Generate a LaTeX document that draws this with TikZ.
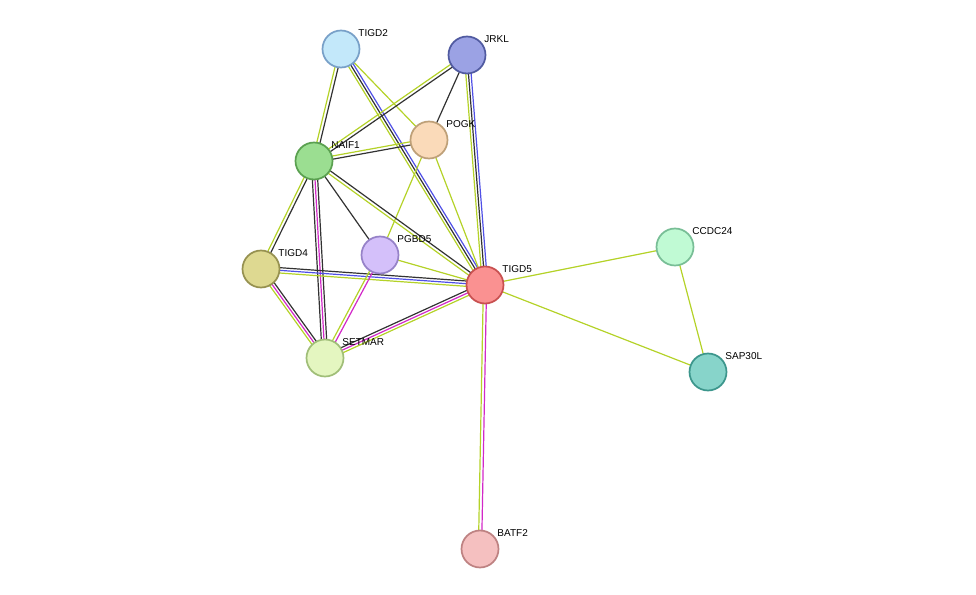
\documentclass[tikz,border=0pt]{standalone}
\usepackage{fontspec}
\setmainfont{Liberation Sans}
\usetikzlibrary{calc,backgrounds}
\definecolor{ygreen}{RGB}{180,210,40}
\definecolor{mgnt}{RGB}{210,40,200}
\definecolor{blu}{RGB}{80,80,230}
\definecolor{blk}{RGB}{50,50,50}
\tikzset{
  prot/.style 2 args = {circle, draw = #2, fill = #1, line width = 1.3pt, minimum size = 37\pxu, inner sep = 0pt},
  lbl/.style = {font = \fontsize{7.5}{9}\selectfont, inner sep = 1pt},
  lnk/.style = {line width = 0.9pt}
}
\newlength{\pxu}
\setlength{\pxu}{0.75pt}
\newcommand{\edg}[3]{\foreach \c/\o in {#3} {\draw[lnk, \c] ($(#1)!\o pt!90:(#2)$) -- ($(#2)!\o pt!-90:(#1)$);}}
\begin{document}
\begin{tikzpicture}[x = 0.75pt, y = -0.75pt]
\useasboundingbox (0,0) rectangle (976,595);
\node[prot = {{rgb,255:red,195;green,232;blue,250}}{{rgb,255:red,120;green,160;blue,200}}, label = {[lbl]35:TIGD2}] (TIGD2) at (341,49) {};
\node[prot = {{rgb,255:red,155;green,162;blue,228}}{{rgb,255:red,80;green,90;blue,160}}, label = {[lbl]35:JRKL}] (JRKL) at (467,55) {};
\node[prot = {{rgb,255:red,250;green,218;blue,185}}{{rgb,255:red,190;green,160;blue,120}}, label = {[lbl]35:POGK}] (POGK) at (429,140) {};
\node[prot = {{rgb,255:red,155;green,222;blue,145}}{{rgb,255:red,90;green,160;blue,80}}, label = {[lbl]35:NAIF1}] (NAIF1) at (314,161) {};
\node[prot = {{rgb,255:red,212;green,192;blue,250}}{{rgb,255:red,150;green,130;blue,200}}, label = {[lbl]35:PGBD5}] (PGBD5) at (380,255) {};
\node[prot = {{rgb,255:red,222;green,217;blue,145}}{{rgb,255:red,150;green,145;blue,80}}, label = {[lbl]35:TIGD4}] (TIGD4) at (261,269) {};
\node[prot = {{rgb,255:red,250;green,145;blue,145}}{{rgb,255:red,200;green,80;blue,80}}, label = {[lbl]35:TIGD5}] (TIGD5) at (485,285) {};
\node[prot = {{rgb,255:red,228;green,246;blue,192}}{{rgb,255:red,160;green,190;blue,120}}, label = {[lbl]35:SETMAR}] (SETMAR) at (325,358) {};
\node[prot = {{rgb,255:red,192;green,250;blue,212}}{{rgb,255:red,120;green,190;blue,150}}, label = {[lbl]35:CCDC24}] (CCDC24) at (675,247) {};
\node[prot = {{rgb,255:red,135;green,212;blue,202}}{{rgb,255:red,60;green,150;blue,140}}, label = {[lbl]35:SAP30L}] (SAP30L) at (708,372) {};
\node[prot = {{rgb,255:red,245;green,192;blue,192}}{{rgb,255:red,190;green,130;blue,130}}, label = {[lbl]35:BATF2}] (BATF2) at (480,549) {};
% links
\begin{scope}[on background layer]
\edg{TIGD2}{NAIF1}{ygreen/-1.2, blk/1.2}
\edg{TIGD2}{POGK}{ygreen/0}
\edg{TIGD2}{TIGD5}{ygreen/-2, blk/0, blu/2}
\edg{JRKL}{NAIF1}{ygreen/-1.2, blk/1.2}
\edg{JRKL}{POGK}{blk/0}
\edg{JRKL}{TIGD5}{ygreen/-2, blk/0, blu/2}
\edg{POGK}{NAIF1}{ygreen/-1.2, blk/1.2}
\edg{POGK}{TIGD5}{ygreen/0}
\edg{POGK}{PGBD5}{ygreen/0}
\edg{NAIF1}{PGBD5}{blk/0}
\edg{NAIF1}{TIGD5}{ygreen/-1.2, blk/1.2}
\edg{NAIF1}{TIGD4}{ygreen/-1.2, blk/1.2}
\edg{NAIF1}{SETMAR}{blk/-2, mgnt/0, blk/2}
\edg{TIGD4}{TIGD5}{ygreen/-2, blu/0, blk/2}
\edg{TIGD4}{SETMAR}{ygreen/-2, mgnt/0, blk/2}
\edg{PGBD5}{SETMAR}{ygreen/-1.2, mgnt/1.2}
\edg{PGBD5}{TIGD5}{ygreen/0}
\edg{SETMAR}{TIGD5}{ygreen/-2, mgnt/0, blk/2}
\edg{TIGD5}{CCDC24}{ygreen/0}
\edg{TIGD5}{SAP30L}{ygreen/0}
\edg{CCDC24}{SAP30L}{ygreen/0}
\edg{TIGD5}{BATF2}{ygreen/-1.2, mgnt/1.2}
\end{scope}
\end{tikzpicture}
\end{document}
